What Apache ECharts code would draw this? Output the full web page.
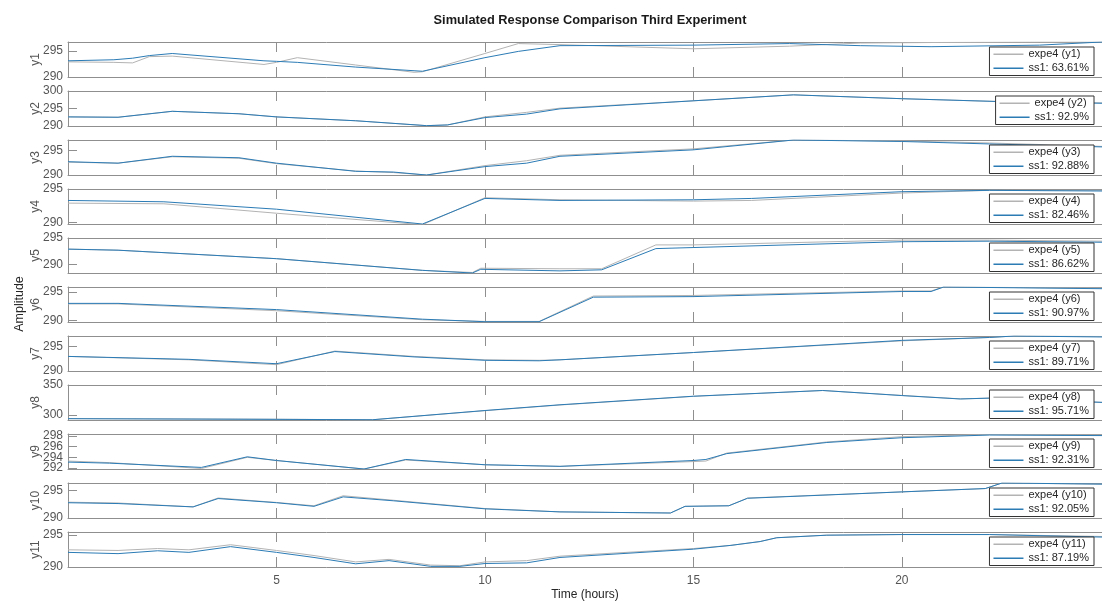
<!DOCTYPE html>
<html><head><meta charset="utf-8">
<script src="https://cdn.jsdelivr.net/npm/echarts@6/dist/echarts.min.js"></script>
<style>html,body{margin:0;padding:0;background:#fff}#c{width:1102px;height:603px}</style>
</head><body><div id="c"></div><script>
// ---- data ----
const fits = ['63.61%','92.9%','92.88%','82.46%','86.62%','90.97%','89.71%','95.71%','92.31%','92.05%','87.19%'];
const yMin = [290, 290, 290, 289.8, 288.4, 289.7, 290, 291.4, 291.8, 290, 290];
const yMax = [296.7, 300, 297.1, 295, 295, 295.9, 297.2, 350, 298.4, 296.3, 295.5];
const yTicks = [[290,295],[290,295,300],[290,295],[290,295],[290,295],[290,295],[290,295],[300,350],[292,294,296,298],[290,295],[290,295]];
const xTicks = [5, 10, 15, 20];

const t1 = [0,1.1,1.55,1.95,2.5,4.7,5.0,5.5,6.9,8.3,8.5,10,10.8,11.8,15,17.3,19,20.7,23.3,24.8];
const expe1 = [292.9,292.8,292.7,293.9,294.0,292.4,292.8,293.7,292.3,290.9,291.0,294.5,296.4,296.2,295.4,295.9,296.5,296.6,296.7,296.7];
const ss1_1 = [293.1,293.3,293.6,294.1,294.5,293.1,293.0,292.8,291.9,291.2,291.1,293.7,294.9,296.0,296.1,296.4,296.0,295.8,296.1,296.7];

const t2 = [0,1.2,2.5,4.1,5,6.9,8.6,9.1,10,11,11.8,15,17.4,20,22.3,24.8];
const expe2 = [292.6,292.5,294.2,293.5,292.6,291.5,290.1,290.3,292.6,293.9,295.1,297.2,298.9,297.8,297.0,296.6];
const ss1_2 = [292.6,292.5,294.2,293.5,292.6,291.5,290.1,290.3,292.4,293.4,294.9,297.2,298.9,297.8,297.0,296.5];

const t3 = [0,1.2,2.5,4.1,5,6.9,7.8,8.6,10,11,11.8,15,17.4,20,22.1,24.8];
const expe3 = [292.6,292.4,293.7,293.4,292.3,290.8,290.5,290.0,291.9,292.9,294.0,295.3,297.1,296.9,296.5,295.8];
const ss1_3 = [292.7,292.4,293.8,293.5,292.4,290.75,290.6,290.0,291.7,292.4,293.8,295.1,297.1,296.8,296.3,295.7];

const t4 = [0,2.3,5,8.5,10,11.8,15,16.4,20,22.1,24.8];
const expe4 = [292.9,292.8,291.4,289.7,293.7,293.4,293.2,293.3,294.4,294.8,294.8];
const ss1_4 = [293.3,293.1,292.0,289.8,293.6,293.3,293.4,293.6,294.6,294.8,294.7];

const t5 = [0,1.2,5,8.5,9.7,9.9,11.8,12.8,14.1,15,20,22.1,24.8];
const expe5 = [292.9,292.7,291.1,288.9,288.5,289.3,289.2,289.2,293.7,293.7,294.6,294.6,294.4];
const ss1_5 = [292.9,292.7,291.1,288.9,288.4,289.1,288.8,289.0,293.0,293.2,294.3,294.4,294.2];

const t6 = [0,1.2,5,8.5,10,11.3,12.6,15,20,20.7,21,24.8];
const expe6 = [292.9,292.9,291.7,290.1,289.8,289.8,294.3,294.4,295.2,295.2,295.9,295.7];
const ss1_6 = [293.0,293.0,291.9,290.2,289.75,289.75,294.1,294.2,295.1,295.1,295.9,295.6];

const t7 = [0,2.9,5,6.4,8.3,10,11.3,11.8,15,20,22.1,22.7,24.8];
const expe7 = [293.0,292.3,291.3,294.1,293.0,292.3,292.2,292.3,293.8,296.2,296.9,297.2,297.1];
const ss1_7 = [293.0,292.4,291.5,294.0,292.9,292.2,292.1,292.3,293.8,296.3,296.9,297.2,297.0];

const t8 = [0,5,7.3,10,11.8,15,18.1,20,21.4,22.1,24.8];
const expe8 = [293.8,292.6,291.8,307.0,316.5,331.0,340.8,332.5,326.8,328.0,321.0];
const ss1_8 = [293.6,292.5,291.8,307.3,316.9,331.2,340.8,332.3,326.6,328.0,320.9];

const t9 = [0,1.0,3.2,4.3,5,7.1,8.1,10,11.8,15,15.3,15.8,18.2,20,22.1,24.8];
const expe9 = [293.3,293.0,291.9,294.0,293.4,291.8,293.5,292.6,292.3,293.2,293.3,294.8,296.9,297.9,298.3,298.2];
const ss1_9 = [293.1,292.9,292.1,294.1,293.4,291.8,293.6,292.6,292.3,293.4,293.6,294.7,296.8,297.7,298.2,298.1];

const t10 = [0,1.2,3.0,3.6,5,5.9,6.6,7.8,10,11.8,14.45,14.8,15.85,16.3,20,22.0,22.4,24.8];
const expe10 = [292.85,292.7,292.0,293.6,292.8,292.2,294.0,293.2,291.7,291.1,290.9,292.1,292.2,293.6,294.7,295.3,296.3,296.1];
const ss1_10 = [292.75,292.6,292.0,293.5,292.75,292.1,293.8,293.1,291.65,291.1,290.9,292.1,292.2,293.55,294.7,295.3,296.3,296.1];

const t11 = [0,1.2,2.15,2.9,3.9,5,5.9,6.9,7.7,8.7,9.4,10,11.0,11.8,15,15.9,16.6,17.0,18.2,20,22.1,24.8];
const expe11 = [292.7,292.6,292.9,292.7,293.5,292.6,291.8,290.8,291.2,290.3,290.2,290.8,291.0,291.7,292.9,293.4,294.0,294.6,295.0,295.1,295.1,294.8];
const ss1_11 = [292.3,292.1,292.55,292.3,293.2,292.3,291.5,290.5,291.0,290.1,290.1,290.55,290.65,291.5,292.8,293.4,294.0,294.6,295.0,295.1,295.1,294.7];

const times = [t1,t2,t3,t4,t5,t6,t7,t8,t9,t10,t11];
const expe = [expe1,expe2,expe3,expe4,expe5,expe6,expe7,expe8,expe9,expe10,expe11];
const ss1 = [ss1_1,ss1_2,ss1_3,ss1_4,ss1_5,ss1_6,ss1_7,ss1_8,ss1_9,ss1_10,ss1_11];

// ---- layout / style ----
const FONT = 'Liberation Sans, Arial, Helvetica, sans-serif';
const N = 11, TOP0 = 42, PITCH = 49, H = 35, LEFT = 68;
const BOX = '#8f8f8f', LBL = '#555555', GRAY = '#b3b3b3', BLUE = '#2b7bb5';

const grid = [], xAxis = [], yAxis = [], series = [], legend = [];
for (let i = 0; i < N; i++) {
  const top = TOP0 + PITCH * i;
  grid.push({left: LEFT, right: 0, top: top, height: H});
  const last = i === N - 1;
  xAxis.push({
    type: 'value', gridIndex: i, min: 0, max: 24.8, position: 'bottom',
    axisLine: {show: true, onZero: false, lineStyle: {color: BOX, width: 1}},
    axisTick: {show: true, inside: true, length: 10, customValues: xTicks, lineStyle: {color: BOX}},
    axisLabel: {show: last, customValues: xTicks, margin: 8, color: LBL, fontSize: 12, fontFamily: FONT},
    splitLine: {show: false},
    name: last ? 'Time (hours)' : '', nameLocation: 'middle', nameGap: 22, nameMoveOverlap: false,
    nameTextStyle: {color: '#262626', fontSize: 12, fontFamily: FONT}
  });
  xAxis.push({
    type: 'value', gridIndex: i, min: 0, max: 24.8, position: 'top',
    axisLine: {show: true, onZero: false, lineStyle: {color: BOX, width: 1}},
    axisTick: {show: true, inside: true, length: 10, customValues: xTicks, lineStyle: {color: BOX}},
    axisLabel: {show: false}, splitLine: {show: false}
  });
  // close-packed tick labels (y9): first/last on the main axis, each middle one on its own label layer
  const tk = yTicks[i];
  const crowded = tk.length > 3;
  const mainLabels = crowded ? [tk[0], tk[tk.length - 1]] : tk;
  const extraLabels = crowded ? tk.slice(1, -1) : [];
  yAxis.push({
    type: 'value', gridIndex: i, min: yMin[i], max: yMax[i],
    axisLine: {show: true, onZero: false, lineStyle: {color: BOX, width: 1}},
    axisTick: {show: true, inside: true, length: 9, customValues: tk, lineStyle: {color: BOX}},
    axisLabel: {customValues: mainLabels, margin: 5, color: LBL, fontSize: 12, fontFamily: FONT,
      hideOverlap: false, showMinLabel: true, showMaxLabel: true},
    splitLine: {show: false},
    name: 'y' + (i + 1), nameLocation: 'middle', nameGap: 26, nameMoveOverlap: false,
    nameTextStyle: {color: LBL, fontSize: 12, fontFamily: FONT}
  });
  const yIdx = yAxis.length - 1;
  extraLabels.forEach(v => {
    yAxis.push({
      type: 'value', gridIndex: i, min: yMin[i], max: yMax[i], position: 'left',
      axisLine: {show: false}, axisTick: {show: false}, splitLine: {show: false},
      axisLabel: {customValues: [v], margin: 5, color: LBL, fontSize: 12, fontFamily: FONT,
        hideOverlap: false}
    });
  });
  const nE = 'expe4 (y' + (i + 1) + ')';
  const nS = 'ss1: ' + fits[i];
  series.push({
    type: 'line', name: nE, xAxisIndex: 2 * i, yAxisIndex: yIdx,
    data: times[i].map((t, j) => [t, expe[i][j]]),
    symbol: 'none', lineStyle: {color: GRAY, width: 1}, itemStyle: {color: GRAY},
    animation: false, z: 2
  });
  series.push({
    type: 'line', name: nS, xAxisIndex: 2 * i, yAxisIndex: yIdx,
    data: times[i].map((t, j) => [t, ss1[i][j]]),
    symbol: 'none', lineStyle: {color: BLUE, width: 1}, itemStyle: {color: BLUE},
    animation: false, z: 3
  });
  legend.push({
    data: [nE, nS], orient: 'vertical', right: 8, top: top + 5,
    backgroundColor: '#ffffff', borderColor: '#333333', borderWidth: 1, borderRadius: 0,
    padding: [1, 5, 1, 4], itemGap: 1.5, itemWidth: 30, itemHeight: 1.5, icon: 'rect',
    selectedMode: false,
    textStyle: {color: '#262626', fontSize: 11, fontFamily: FONT, lineHeight: 12.5}
  });
}

const option = {
  backgroundColor: '#ffffff',
  animation: false,
  title: {
    text: 'Simulated Response Comparison Third Experiment',
    left: 585, textAlign: 'center', top: 9,
    textStyle: {fontSize: 12.8, fontWeight: 'bold', color: '#1a1a1a', fontFamily: FONT}
  },
  graphic: [{
    type: 'text', x: 20, y: 304, rotation: Math.PI / 2,
    style: {text: 'Amplitude', align: 'center', verticalAlign: 'middle', font: '12.5px ' + FONT, fill: '#262626'}
  }],
  grid, xAxis, yAxis, series, legend
};
const chart = echarts.init(document.getElementById('c'), null, {renderer: 'canvas'});
chart.setOption(option);
</script></body></html>
